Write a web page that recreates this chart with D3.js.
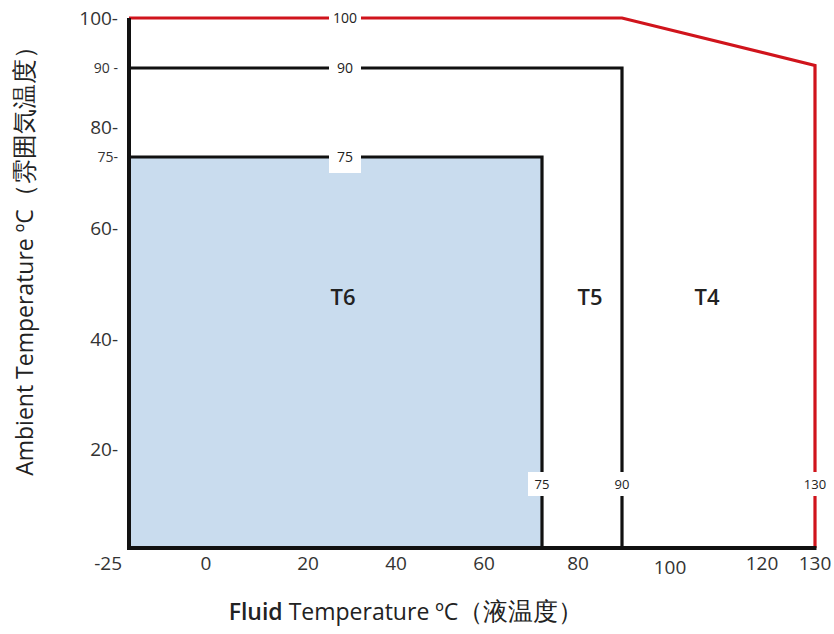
<!DOCTYPE html>
<html>
<head>
<meta charset="utf-8">
<title>Temperature class chart</title>
<script src="https://cdn.jsdelivr.net/npm/d3@7"></script>
<style>
  body { margin: 0; background: #fff; }
  svg { display: block; font-family: "Open Sans", "Noto Sans", sans-serif; }
</style>
</head>
<body>
<div id="viz"></div>
<script>
// tick values of the two axes (the axes are not to scale, so breakpoints are used)
var xTicks = [0, 20, 40, 60, 80, 100, 120, 130];
var yTicks = [20, 40, 60, 75, 80, 90, 100];
var cornerTick = -25;

// temperature class limits: fluid max / ambient max
var zoneNames = ["T6", "T5", "T4"];
var fluidMax = [75, 90, 130];
var ambientMax = [75, 90, 100];
// T4 ambient limit falls off between fluid 90 and 130
var t4Limit = [[-25, 100], [90, 100], [130, 90.5]];

var W = 834, H = 634;
var svg = d3.select("#viz").append("svg").attr("width", W).attr("height", H);

// piecewise scales
var x = d3.scaleLinear()
    .domain([-25, 0, 20, 40, 60, 75, 80, 90, 100, 120, 130])
    .range([129, 206, 308, 396, 484, 542, 578, 622, 670, 762, 815]);
var y = d3.scaleLinear()
    .domain([-25, 20, 40, 60, 75, 80, 90, 100])
    .range([548, 449, 339, 228, 157, 127, 68, 18]);

var x0 = x(-25), y0 = y(-25);

// T6 area
svg.append("rect")
    .attr("x", x0).attr("y", y(ambientMax[0]))
    .attr("width", x(fluidMax[0]) - x0)
    .attr("height", y0 - y(ambientMax[0]))
    .style("fill", "#c9dcee");

// red T4 boundary
var line = d3.line().x(function(d) { return x(d[0]); }).y(function(d) { return y(d[1]); });
var redPts = t4Limit.concat([[130, -25]]);
svg.append("path").attr("d", line(redPts))
    .style("fill", "none").style("stroke", "#d0141c").style("stroke-width", 3.2);

// black T6 and T5 boundaries
[0, 1].forEach(function(i) {
    svg.append("path")
        .attr("d", line([[-25, ambientMax[i]], [fluidMax[i], ambientMax[i]], [fluidMax[i], -25]]))
        .style("fill", "none").style("stroke", "#111").style("stroke-width", 3.2);
});

// axes lines
svg.append("line").attr("x1", x0).attr("x2", x0).attr("y1", y(100)).attr("y2", y0 + 2)
    .style("stroke", "#111").style("stroke-width", 4);
svg.append("line").attr("x1", x0 - 2).attr("x2", x(130) + 1.5).attr("y1", y0).attr("y2", y0)
    .style("stroke", "#111").style("stroke-width", 4);

// limit labels on the horizontal lines (with white gaps)
var topLabelX = 345;
ambientMax.forEach(function(v, i) {
    var g = svg.append("g");
    g.append("rect")
        .attr("x", topLabelX - 16).attr("y", y(v) - 8)
        .attr("width", 32).attr("height", i == 0 ? 24 : 16)
        .style("fill", "#fff");
    g.append("text")
        .attr("x", topLabelX).attr("y", y(v))
        .attr("dy", "0.35em").attr("text-anchor", "middle")
        .style("font-size", "14px").style("fill", "#222")
        .text(v);
});

// limit labels on the vertical lines
var sideLabelY = 484;
fluidMax.forEach(function(v) {
    svg.append("rect")
        .attr("x", x(v) - 14).attr("y", sideLabelY - 12)
        .attr("width", 28).attr("height", 24)
        .style("fill", "#fff");
    svg.append("text")
        .attr("x", x(v)).attr("y", sideLabelY)
        .attr("dy", "0.35em").attr("text-anchor", "middle")
        .style("font-size", "13px").style("fill", "#222")
        .text(v);
});

// zone names
var zoneY = 297;
var zoneX = [343, 590, 707];
zoneNames.forEach(function(n, i) {
    svg.append("text")
        .attr("x", zoneX[i]).attr("y", zoneY)
        .attr("dy", "0.35em").attr("text-anchor", "middle")
        .style("font-size", "22px").style("font-weight", "600").style("fill", "#222")
        .text(n);
});

// y tick labels
yTicks.forEach(function(v) {
    var small = (v == 90 || v == 75);
    svg.append("text")
        .attr("x", 118).attr("y", y(v))
        .attr("dy", "0.35em").attr("text-anchor", "end")
        .style("font-size", small ? "14px" : "19px").style("fill", "#333")
        .text(v + (v == 90 ? " -" : "-"));
});

// x tick labels
xTicks.forEach(function(v) {
    svg.append("text")
        .attr("x", x(v)).attr("y", v == 100 ? 567 : 563)
        .attr("dy", "0.35em").attr("text-anchor", "middle")
        .style("font-size", "19px").style("fill", "#333")
        .text(v);
});
svg.append("text")
    .attr("x", 122).attr("y", 563)
    .attr("dy", "0.35em").attr("text-anchor", "end")
    .style("font-size", "19px").style("fill", "#333")
    .text(cornerTick);

// axis titles
var xt = svg.append("text")
    .attr("x", 406).attr("y", 612)
    .attr("dy", "0.35em").attr("text-anchor", "middle")
    .style("font-size", "23px").style("fill", "#222");
xt.append("tspan").style("font-weight", "600").text("Fluid");
xt.append("tspan").text(" Temperature ºC");
xt.append("tspan").style("font-size", "25px").text("（液温度）");

var yt = svg.append("text")
    .attr("transform", "translate(25,255) rotate(-90)")
    .attr("dy", "0.35em").attr("text-anchor", "middle")
    .style("font-size", "23px").style("fill", "#222");
yt.append("tspan").text("Ambient Temperature ºC");
yt.append("tspan").style("font-size", "25px").text("（雰囲気温度）");
</script>
</body>
</html>
